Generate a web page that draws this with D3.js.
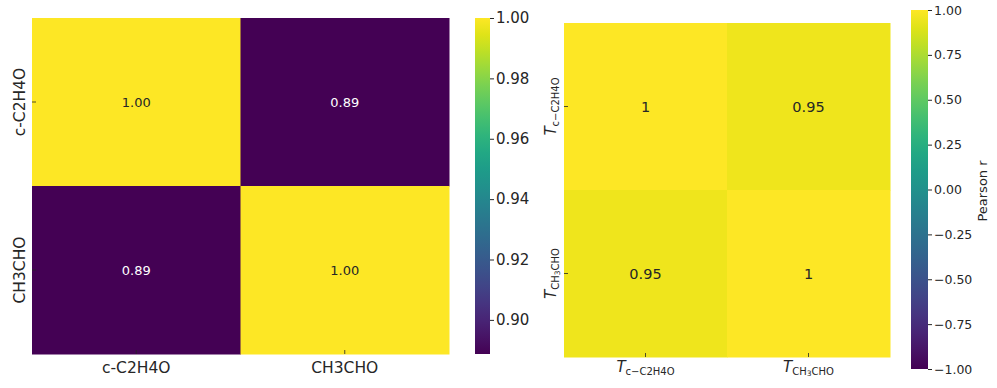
<!DOCTYPE html>
<html>
<head>
<meta charset="utf-8">
<script src="https://cdn.jsdelivr.net/npm/d3@7"></script>
<style>
  body { margin: 0; background: #fff; }
  svg text { font-family: "DejaVu Sans", sans-serif; fill: #262626; }
</style>
</head>
<body>
<svg id="chart" width="997" height="388"></svg>
<script>
// left panel data
var leftLabels = ["c-C2H4O", "CH3CHO"];
var leftValues = [[1.00, 0.8887], [0.8887, 1.00]];
var leftCbTicks = [0.90, 0.92, 0.94, 0.96, 0.98, 1.00];

// right panel data (subscript pieces: [text, isSub])
var rightLabels = [[["c\u2212C2H4O", 0]], [["CH", 0], ["3", 1], ["CHO", 0]]];
var rightValues = [[1, 0.95], [0.95, 1]];
var rightCbTicks = [-1, -0.75, -0.5, -0.25, 0, 0.25, 0.5, 0.75, 1];

var svg = d3.select("#chart");
var dark = "#262626";

function heatmap(opt) {
  var n = opt.values.length;
  var idx = d3.range(n);
  var x = d3.scaleBand().domain(idx).range([opt.x0, opt.x1]);
  var y = d3.scaleBand().domain(idx).range([opt.y0, opt.y1]);
  var color = d3.scaleSequential(d3.interpolateViridis).domain(opt.domain);
  var g = svg.append("g");
  var cells = [];
  opt.values.forEach(function(row, i) {
    row.forEach(function(v, j) { cells.push({i: i, j: j, v: v}); });
  });
  g.selectAll("rect.cell").data(cells).enter().append("rect")
    .attr("x", function(d){ return x(d.j); })
    .attr("y", function(d){ return y(d.i); })
    .attr("width", x.bandwidth() + 0.5)
    .attr("height", y.bandwidth() + 0.5)
    .attr("fill", function(d){ return color(d.v); });
  g.selectAll("text.ann").data(cells).enter().append("text")
    .attr("x", function(d){ return x(d.j) + x.bandwidth() / 2; })
    .attr("y", function(d){ return y(d.i) + y.bandwidth() / 2; })
    .attr("text-anchor", "middle")
    .attr("dominant-baseline", "central")
    .style("font-size", opt.annSize + "px")
    .style("fill", function(d){ return d3.hsl(color(d.v)).l > 0.5 ? dark : "#ffffff"; })
    .text(function(d){ return opt.fmt(d.v); });
  // inward ticks like the picture
  g.selectAll("line.xt").data(idx).enter().append("line")
    .attr("x1", function(d){ return x(d) + x.bandwidth() / 2; })
    .attr("x2", function(d){ return x(d) + x.bandwidth() / 2; })
    .attr("y1", opt.y1 - 4).attr("y2", opt.y1)
    .attr("stroke", dark).attr("stroke-width", 0.8);
  g.selectAll("line.yt").data(idx).enter().append("line")
    .attr("y1", function(d){ return y(d) + y.bandwidth() / 2; })
    .attr("y2", function(d){ return y(d) + y.bandwidth() / 2; })
    .attr("x1", opt.x0).attr("x2", opt.x0 + 4)
    .attr("stroke", dark).attr("stroke-width", 0.8);
  return {x: x, y: y, color: color, g: g, idx: idx};
}

function colorbar(opt) {
  var id = opt.id;
  var grad = svg.append("defs").append("linearGradient")
    .attr("id", id).attr("x1", 0).attr("y1", 1).attr("x2", 0).attr("y2", 0);
  d3.range(0, 1.0001, 0.05).forEach(function(t) {
    grad.append("stop").attr("offset", t).attr("stop-color", d3.interpolateViridis(t));
  });
  svg.append("rect")
    .attr("x", opt.x).attr("y", opt.y0)
    .attr("width", opt.w).attr("height", opt.y1 - opt.y0)
    .attr("fill", "url(#" + id + ")");
  var s = d3.scaleLinear().domain(opt.domain).range([opt.y1, opt.y0]);
  var ax = svg.append("g")
    .attr("transform", "translate(" + (opt.x + opt.w) + ",0)")
    .call(d3.axisRight(s).tickValues(opt.ticks).tickSize(4).tickPadding(2)
      .tickFormat(function(d){ return d3.format(".2f")(d).replace("-", "\u2212"); }));
  ax.select(".domain").remove();
  ax.selectAll(".tick line").attr("stroke", dark);
  ax.selectAll(".tick text")
    .style("font-size", opt.fontSize + "px")
    .style("font-family", "DejaVu Sans, sans-serif")
    .attr("fill", dark);
  return s;
}

// ---------- left panel ----------
var L = heatmap({
  values: leftValues, x0: 32, x1: 449, y0: 18, y1: 354,
  domain: [d3.min(leftValues, function(r){ return d3.min(r); }), 1.0],
  annSize: 13, fmt: d3.format(".2f")
});
L.g.selectAll("text.xl").data(leftLabels).enter().append("text")
  .attr("x", function(d, i){ return L.x(i) + L.x.bandwidth() / 2; })
  .attr("y", 373)
  .attr("text-anchor", "middle")
  .style("font-size", "15.5px")
  .text(function(d){ return d; });
L.g.selectAll("text.yl").data(leftLabels).enter().append("text")
  .attr("transform", function(d, i){
    return "translate(25," + (L.y(i) + L.y.bandwidth() / 2) + ") rotate(-90)";
  })
  .attr("text-anchor", "middle")
  .style("font-size", "15.5px")
  .text(function(d){ return d; });

colorbar({
  id: "cbL", x: 475, w: 15, y0: 18, y1: 354,
  domain: L.color.domain(), ticks: leftCbTicks, fontSize: 15
});

// ---------- right panel ----------
var R = heatmap({
  values: rightValues, x0: 564, x1: 890, y0: 23, y1: 357,
  domain: [-1, 1], annSize: 14.5, fmt: function(v){ return String(v); }
});

function mathLabel(sel, parts) {
  sel.append("tspan").style("font-style", "italic").style("font-size", "15px").text("T");
  var sub = sel.append("tspan").attr("baseline-shift", "-25%").style("font-size", "10px");
  parts.forEach(function(p) {
    var t = sub.append("tspan").text(p[0]);
    if (p[1]) t.attr("baseline-shift", "-20%").style("font-size", "7.5px");
  });
}

rightLabels.forEach(function(parts, i) {
  var tx = R.g.append("text")
    .attr("x", R.x(i) + R.x.bandwidth() / 2)
    .attr("y", 372)
    .attr("text-anchor", "middle");
  mathLabel(tx, parts);
  var ty = R.g.append("text")
    .attr("transform", "translate(556," + (R.y(i) + R.y.bandwidth() / 2) + ") rotate(-90)")
    .attr("text-anchor", "middle");
  mathLabel(ty, parts);
});

colorbar({
  id: "cbR", x: 911, w: 17, y0: 10, y1: 369,
  domain: [-1, 1], ticks: rightCbTicks, fontSize: 12.5
});
svg.append("text")
  .attr("transform", "translate(987,191) rotate(-90)")
  .attr("text-anchor", "middle")
  .style("font-size", "13px")
  .text("Pearson r");
</script>
</body>
</html>
